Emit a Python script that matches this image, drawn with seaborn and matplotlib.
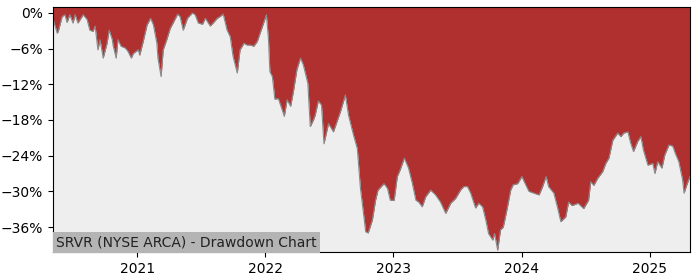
import matplotlib
matplotlib.use("Agg")
import matplotlib.pyplot as plt
from matplotlib.ticker import FuncFormatter, FixedLocator
import seaborn as sns
import pandas as pd

dates = [
    "2020-05-06", "2020-05-18", "2020-05-21", "2020-06-01", "2020-06-09", "2020-06-15",
    "2020-06-23", "2020-07-02", "2020-07-08", "2020-07-16", "2020-07-31", "2020-08-11",
    "2020-08-19", "2020-08-28", "2020-09-03", "2020-09-11", "2020-09-17", "2020-09-26",
    "2020-10-02", "2020-10-07", "2020-10-13", "2020-10-22", "2020-10-24", "2020-11-02",
    "2020-11-07", "2020-11-16", "2020-11-28", "2020-12-06", "2020-12-15", "2020-12-21",
    "2021-01-04", "2021-01-08", "2021-01-18", "2021-01-29", "2021-02-08", "2021-02-16",
    "2021-02-26", "2021-03-01", "2021-03-10", "2021-03-16", "2021-03-26", "2021-04-05",
    "2021-04-13", "2021-04-26", "2021-05-03", "2021-05-12", "2021-05-24", "2021-06-07",
    "2021-06-15", "2021-06-24", "2021-07-06", "2021-07-14", "2021-07-28", "2021-08-05",
    "2021-08-17", "2021-08-25", "2021-09-03", "2021-09-14", "2021-09-23", "2021-10-01",
    "2021-10-13", "2021-10-21", "2021-11-01", "2021-11-10", "2021-11-19", "2021-11-29",
    "2021-12-09", "2021-12-17", "2021-12-27", "2022-01-04", "2022-01-10", "2022-01-14",
    "2022-01-21", "2022-01-28", "2022-02-07", "2022-02-18", "2022-02-24", "2022-03-04",
    "2022-03-14", "2022-03-22", "2022-04-01", "2022-04-11", "2022-04-19", "2022-05-02",
    "2022-05-09", "2022-05-18", "2022-05-23", "2022-06-01", "2022-06-10", "2022-06-17",
    "2022-06-30", "2022-07-14", "2022-08-03", "2022-08-17", "2022-08-26", "2022-09-09",
    "2022-09-20", "2022-09-29", "2022-10-07", "2022-10-14", "2022-10-21", "2022-11-02",
    "2022-11-11", "2022-11-18", "2022-12-05", "2022-12-15", "2022-12-23", "2023-01-03",
    "2023-01-12", "2023-01-20", "2023-02-01", "2023-02-13", "2023-02-24", "2023-03-06",
    "2023-03-14", "2023-03-24", "2023-04-03", "2023-04-17", "2023-05-01", "2023-05-15",
    "2023-05-30", "2023-06-13", "2023-06-27", "2023-07-11", "2023-07-20", "2023-07-31",
    "2023-08-09", "2023-08-23", "2023-09-01", "2023-09-12", "2023-09-21", "2023-09-29",
    "2023-10-11", "2023-10-16", "2023-10-25", "2023-11-02", "2023-11-10", "2023-11-22",
    "2023-12-01", "2023-12-08", "2023-12-21", "2024-01-02", "2024-01-08", "2024-01-22",
    "2024-02-05", "2024-02-20", "2024-03-01", "2024-03-11", "2024-03-18", "2024-04-02",
    "2024-04-12", "2024-04-22", "2024-05-06", "2024-05-14", "2024-05-24", "2024-06-10",
    "2024-06-26", "2024-07-10", "2024-07-16", "2024-07-25", "2024-08-05", "2024-08-19",
    "2024-08-28", "2024-09-06", "2024-09-17", "2024-10-01", "2024-10-10", "2024-10-18",
    "2024-10-30", "2024-11-07", "2024-11-15", "2024-11-27", "2024-12-06", "2024-12-13",
    "2024-12-26", "2025-01-09", "2025-01-15", "2025-01-23", "2025-02-04", "2025-02-12",
    "2025-02-24", "2025-03-07", "2025-03-14", "2025-03-24", "2025-04-04", "2025-04-08",
    "2025-04-17", "2025-04-25",
]

drawdown = [
    -1.0, -3.4, -3.1, -0.6, -0.3, -1.6,
    -0.3, -1.7, -0.3, -1.7, -0.3, -1.1,
    -2.9, -3.1, -2.2, -6.2, -4.5, -7.6,
    -6.2, -5.1, -2.9, -4.5, -5.4, -7.6,
    -4.5, -5.6, -5.9, -6.5, -7.6, -6.8,
    -6.2, -7.1, -4.8, -2.0, -0.9, -2.0,
    -5.1, -7.6, -10.7, -6.2, -4.5, -2.6,
    -1.7, -0.2, -0.6, -2.9, -0.9, 0.0,
    -0.3, -1.7, -1.9, -0.9, -2.2, -1.7,
    -0.9, -0.6, -0.2, -2.9, -4.0, -7.3,
    -10.1, -6.2, -5.1, -5.4, -5.4, -5.6,
    -4.8, -3.4, -1.7, -0.3, -4.5, -9.9,
    -10.7, -14.5, -14.4, -16.3, -17.4, -14.6,
    -15.7, -13.2, -9.5, -7.6, -8.7, -11.8,
    -19.1, -18.0, -17.2, -14.8, -15.5, -22.0,
    -18.6, -20.0, -16.6, -13.8, -17.2, -20.5,
    -22.8, -29.5, -33.4, -36.8, -37.0, -34.8,
    -31.5, -29.8, -28.7, -29.5, -31.5, -31.5,
    -27.5, -26.4, -24.4, -26.1, -28.7, -31.5,
    -31.8, -32.6, -30.9, -29.8, -30.6, -31.8,
    -33.7, -32.0, -31.2, -29.8, -29.2, -29.2,
    -30.3, -32.8, -32.0, -32.6, -34.8, -37.1,
    -38.2, -37.1, -39.9, -36.5, -36.0, -32.6,
    -29.8, -28.9, -28.7, -27.5, -28.3, -30.0,
    -30.3, -30.6, -29.2, -27.5, -29.2, -30.3,
    -32.6, -35.1, -34.3, -31.8, -32.4, -32.0,
    -32.9, -31.5, -28.4, -29.0, -27.8, -26.7,
    -25.3, -24.4, -21.4, -20.2, -20.8, -20.2,
    -20.0, -21.9, -23.3, -21.6, -20.8, -23.0,
    -25.6, -25.3, -27.0, -25.0, -26.1, -23.9,
    -22.2, -22.4, -23.6, -25.0, -28.1, -30.3,
    -28.7, -27.5,
]

y_ticks = [0, -6, -12, -18, -24, -30, -36]
x_years = ["2021", "2022", "2023", "2024", "2025"]
title_text = "SRVR (NYSE ARCA) - Drawdown Chart"

df = pd.DataFrame({"date": pd.to_datetime(dates), "dd": drawdown})

fig = plt.figure(figsize=(7, 2.8), dpi=100)
ax = fig.add_axes([53 / 700, 28 / 280, 637 / 700, 245 / 280])
ax.set_facecolor("#eeeeee")

y_lo, y_hi = -40.2, 1.0
ax.fill_between(df["date"], y_hi, df["dd"], color="#b03030", linewidth=0)
sns.lineplot(data=df, x="date", y="dd", ax=ax, color="#8a8a8a", linewidth=0.8)

ax.set_xlim(df["date"].min(), df["date"].max())
ax.set_ylim(y_lo, y_hi)
ax.yaxis.set_major_locator(FixedLocator(y_ticks))
ax.yaxis.set_major_formatter(FuncFormatter(lambda v, p: f"{int(round(v))}%".replace("-", "\u2212")))
ax.set_xticks(pd.to_datetime([y + "-01-01" for y in x_years]))
ax.set_xticklabels(x_years)
ax.set_xlabel("")
ax.set_ylabel("")

ax.text(0.005, 0.012, title_text, transform=ax.transAxes, fontsize=10,
        ha="left", va="bottom", color="#222222",
        bbox=dict(facecolor="#b4b4b4", edgecolor="none", pad=2.5))

fig.savefig("out.png", dpi=100)
